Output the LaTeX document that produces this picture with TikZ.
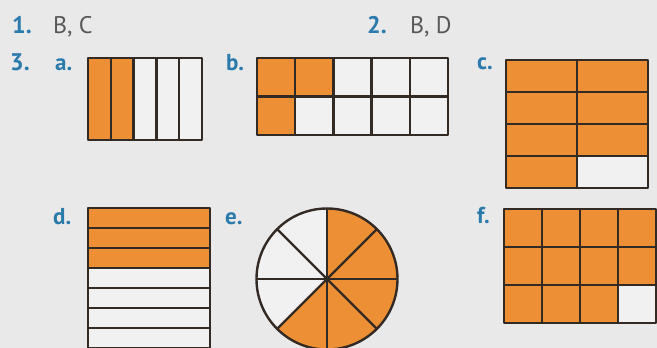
\documentclass[tikz,border=0pt]{standalone}
\usepackage{fontspec}
\setmainfont{PT Sans}
\usetikzlibrary{calc, positioning}
\definecolor{pagegray}{RGB}{233,233,233}
\definecolor{cellwhite}{RGB}{241,241,241}
\definecolor{fracorange}{RGB}{237,143,52}
\definecolor{qblue}{RGB}{42,122,172}
\definecolor{anstext}{RGB}{88,88,88}
\definecolor{gridline}{RGB}{52,42,36}
\tikzset{
  qnum/.style={font=\bfseries\fontsize{24}{24}\selectfont, text=qblue, inner sep=0pt},
  ans/.style={font=\fontsize{24}{24}\selectfont, text=anstext, inner sep=0pt},
  part/.style={font=\bfseries\fontsize{23}{23}\selectfont, text=qblue, inner sep=0pt, anchor=base west},
  gridpen/.style={draw=gridline, line width=2.4pt, line join=round},
  shaded/.style={fill=fracorange}
}

\begin{document}
\begin{tikzpicture}[x=1pt, y=-1pt]
  \clip (0,0) rectangle (657,348);
  \fill[pagegray] (0,0) rectangle (657,348);

  % answers 1 and 2
  \node[qnum, anchor=base west] (q1) at (12,33) {1.};
  \node[ans, base right=21pt of q1] (a1) {B, C};
  \node[qnum, anchor=base west] (q2) at (367,33) {2.};
  \node[ans, base right=23pt of q2] (a2) {B, D};
  \node[qnum, anchor=base west] (q3) at (10,70) {3.};

  % part labels
  \node[part] (pa) at (55,70) {a.};
  \node[part] (pb) at (226,70) {b.};
  \node[part] (pc) at (477,69) {c.};
  \node[part] (pd) at (53,224) {d.};
  \node[part] (pe) at (225,224) {e.};
  \node[part] (pf) at (477,223) {f.};

  % a: fifths
  \fill[cellwhite] (88,58) rectangle (202,140);
  \fill[shaded] (88,58) rectangle (133.6,140);
  \foreach \i in {1,...,4}
    \draw[gridpen] ({88+22.8*\i},58) -- ({88+22.8*\i},140);
  \draw[gridpen] (88,58) rectangle (202,140);

  % b: tenths
  \fill[cellwhite] (257,58) rectangle (448,135);
  \fill[shaded] (257,58) rectangle (333.4,96.5);
  \fill[shaded] (257,96.5) rectangle (295.2,135);
  \foreach \i in {1,...,4}
    \draw[gridpen] ({257+38.2*\i},58) -- ({257+38.2*\i},135);
  \draw[gridpen] (257,96.5) -- (448,96.5);
  \draw[gridpen] (257,58) rectangle (448,135);

  % c: eighths
  \fill[shaded] (506,60) rectangle (648,188);
  \fill[cellwhite] (577,156) rectangle (648,188);
  \foreach \j in {1,2,3}
    \draw[gridpen] (506,{60+32*\j}) -- (648,{60+32*\j});
  \draw[gridpen] (577,60) -- (577,188);
  \draw[gridpen] (506,60) rectangle (648,188);

  % d: strips running off the page
  \fill[cellwhite] (88,208) rectangle (210,368);
  \fill[shaded] (88,208) rectangle (210,268);
  \foreach \j in {1,...,7}
    \draw[gridpen] (88,{208+20*\j}) -- (210,{208+20*\j});
  \draw[gridpen] (88,208) rectangle (210,368);

  % e: circle in eighths (y axis points down, so angles run clockwise)
  \coordinate (ctr) at (327,279);
  \fill[cellwhite] (ctr) circle[radius=70.5];
  \fill[shaded] (ctr) -- ++(-90:70.5) arc[start angle=-90, end angle=135, radius=70.5] -- cycle;
  \foreach \ang in {0,45,...,135}
    \draw[gridpen] ($(ctr)+(\ang:70.5)$) -- ($(ctr)+(\ang+180:70.5)$);
  \draw[gridpen] (ctr) circle[radius=70.5];

  % f: twelfths
  \fill[shaded] (504,209) rectangle (656,323);
  \fill[cellwhite] (618,285) rectangle (656,323);
  \foreach \i in {1,2,3}
    \draw[gridpen] ({504+38*\i},209) -- ({504+38*\i},323);
  \foreach \j in {1,2}
    \draw[gridpen] (504,{209+38*\j}) -- (656,{209+38*\j});
  \draw[gridpen] (504,209) rectangle (656,323);
\end{tikzpicture}
\end{document}
